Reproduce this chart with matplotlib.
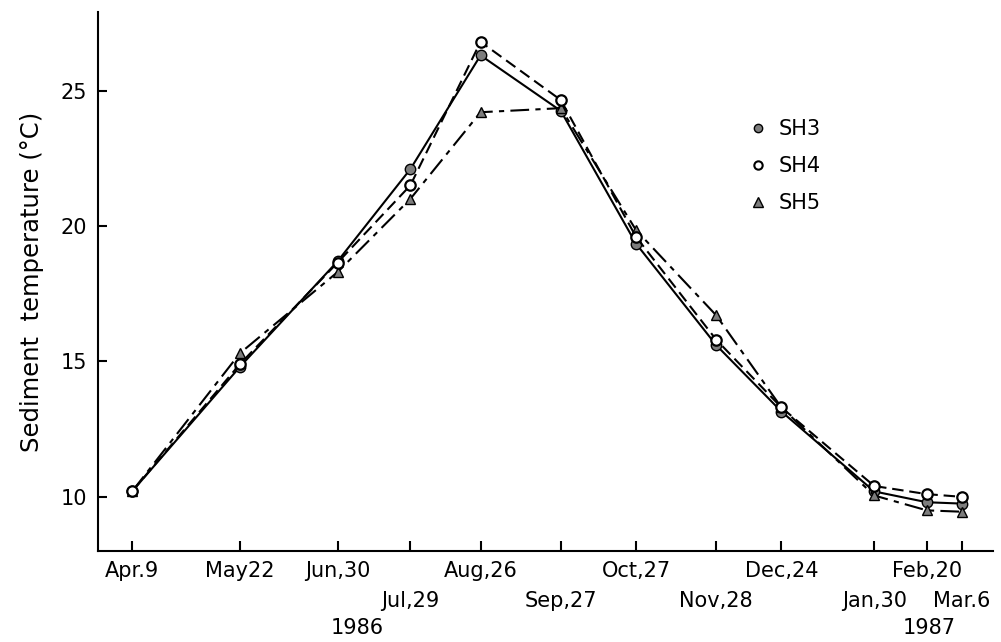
import matplotlib

matplotlib.use("Agg")
import matplotlib.pyplot as plt
import numpy as np
from matplotlib.lines import Line2D

# Sampling dates and sediment temperatures (deg C) at the three stations
dates = np.array(
    [
        "1986-04-09", "1986-05-22", "1986-06-30", "1986-07-29",
        "1986-08-26", "1986-09-27", "1986-10-27", "1986-11-28",
        "1986-12-24", "1987-01-30", "1987-02-20", "1987-03-06",
    ],
    dtype="datetime64[D]",
)
date_labels = [
    "Apr.9", "May22", "Jun,30", "Jul,29", "Aug,26", "Sep,27",
    "Oct,27", "Nov,28", "Dec,24", "Jan,30", "Feb,20", "Mar.6",
]
sh3 = [10.2, 14.8, 18.7, 22.1, 26.3, 24.25, 19.35, 15.6, 13.15, 10.2, 9.8, 9.75]
sh4 = [10.2, 14.9, 18.65, 21.5, 26.8, 24.65, 19.6, 15.8, 13.3, 10.4, 10.1, 10.0]
sh5 = [10.2, 15.3, 18.3, 21.0, 24.2, 24.35, 19.85, 16.7, 13.3, 10.05, 9.5, 9.45]
years = ["1986", "1987"]
year_days = [90, 318]

days = (dates - dates[0]).astype(int)

plt.rcParams["font.family"] = ["DejaVu Sans"]
fs = 15

fig = plt.figure(figsize=(10.01, 6.42), dpi=100)
ax = fig.add_axes([98 / 1001, 1 - 551 / 642, (993 - 98) / 1001, (551 - 12) / 642])

gray = "#7d7d7d"
ms = 7.5
ax.plot(days, sh3, "-", color="black", lw=1.5, marker="o", ms=ms,
        mfc=gray, mec="black", mew=1.0, zorder=3)
ax.plot(days, sh4, color="black", lw=1.5, dashes=(5.5, 2.8), marker="o", ms=ms,
        mfc="white", mec="black", mew=1.6, zorder=4)
ax.plot(days, sh5, color="black", lw=1.5, dashes=(9, 3, 2.5, 3), marker="^", ms=ms,
        mfc=gray, mec="black", mew=1.0, zorder=3)

ax.set_xlim(-13.6, days[-1] + 12.4)
ax.set_ylim(8, 27.9)

for side in ("top", "right"):
    ax.spines[side].set_visible(False)
for side in ("left", "bottom"):
    ax.spines[side].set_linewidth(1.5)

ax.set_yticks([10, 15, 20, 25])
ax.tick_params(axis="y", direction="in", length=6.5, width=1.5, pad=8, labelsize=fs)

# dates alternate between two label rows so neighbours don't collide;
# the lower row sits on minor ticks with a bigger pad
row2 = {"Jul,29", "Sep,27", "Nov,28", "Jan,30", "Mar.6"}
upper = [i for i, s in enumerate(date_labels) if s not in row2]
lower = [i for i, s in enumerate(date_labels) if s in row2]
ax.set_xticks(days[upper], [date_labels[i] for i in upper])
ax.set_xticks(days[lower], [date_labels[i] for i in lower], minor=True)
ax.tick_params(axis="x", which="both", direction="in", length=7, width=1.5,
               labelsize=fs)
ax.tick_params(axis="x", which="major", pad=7)
ax.tick_params(axis="x", which="minor", pad=29)

for yr, d in zip(years, year_days):
    ax.text(d, -(628 - 551) / 539, yr, transform=ax.get_xaxis_transform(),
            ha="center", va="center", fontsize=fs)

ax.set_ylabel("Sediment  temperature (°C)", fontsize=17.5, labelpad=12)

handles = [
    Line2D([], [], ls="none", marker="o", ms=6, mfc=gray, mec="black"),
    Line2D([], [], ls="none", marker="o", ms=6, mfc="white", mec="black", mew=1.5),
    Line2D([], [], ls="none", marker="^", ms=6.5, mfc=gray, mec="black"),
]
ax.legend(handles, ["SH3", "SH4", "SH5"], loc="upper left",
          bbox_to_anchor=(0.749, 1 - 119 / 642), bbox_transform=fig.transFigure,
          frameon=False, fontsize=fs, handlelength=0.8, handletextpad=0.6,
          labelspacing=0.82, borderpad=0, borderaxespad=0)

fig.savefig("out.png", dpi=100)
